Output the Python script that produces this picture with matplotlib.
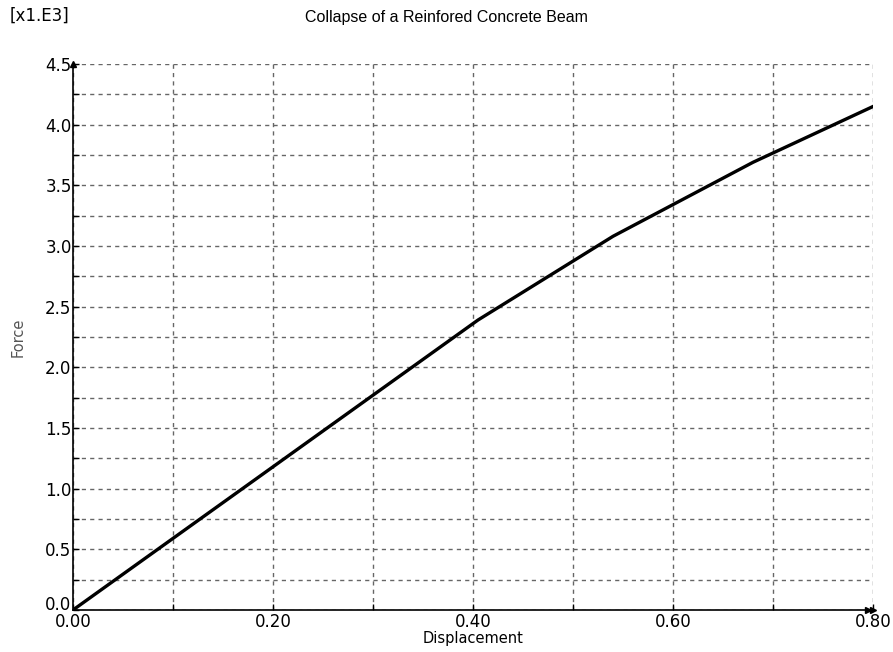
import matplotlib
matplotlib.use("Agg")
import matplotlib.pyplot as plt
import matplotlib.transforms as mtransforms
from matplotlib.ticker import MultipleLocator
import numpy as np

# data (force in N, shown scaled by 1E3)
displacement = [0.0, 0.405, 0.54, 0.68, 0.80]
force = [0.0, 2390.0, 3080.0, 3690.0, 4150.0]
x_ticks = [0.0, 0.2, 0.4, 0.6, 0.8]
x_labels = ["0.00", "0.20", "0.40", "0.60", "0.80"]
y_ticks = [0.0, 0.5, 1.0, 1.5, 2.0, 2.5, 3.0, 3.5, 4.0, 4.5]

fig = plt.figure(figsize=(8.93, 6.52), dpi=100)
ax = fig.add_axes([0.0817, 0.0644, 0.8959, 0.8374])

ax.plot(displacement, np.array(force) / 1000.0, color="black", lw=2.4, zorder=3)

ax.set_xlim(0, 0.8)
ax.set_ylim(0, 4.5)
ax.set_xticks(x_ticks)
ax.set_xticklabels(x_labels)
ax.set_yticks(y_ticks)
ax.set_yticklabels(["%.1f" % v for v in y_ticks])
ax.xaxis.set_minor_locator(MultipleLocator(0.1))
ax.yaxis.set_minor_locator(MultipleLocator(0.25))

# dashed grid
ax.grid(True, which="both", color="#666666", linestyle=(0, (3, 3)), lw=1.0)
ax.set_axisbelow(True)

for s in ["top", "right"]:
    ax.spines[s].set_visible(False)
for s in ["left", "bottom"]:
    ax.spines[s].set_linewidth(1.2)
    ax.spines[s].set_zorder(4)

ax.tick_params(which="both", direction="in", length=4, width=1, pad=2,
               labelsize=12, labelcolor="black")
ax.tick_params(axis="y", which="major", pad=1)

# lift the 0.0 label a little so it sits above the x labels
lbl0 = ax.get_yticklabels()[0]
lbl0.set_transform(lbl0.get_transform() +
                   mtransforms.ScaledTranslation(0, 5 / 72, fig.dpi_scale_trans))

ax.set_xlabel("Displacement", fontsize=10.5, labelpad=0)
ax.set_ylabel("Force", fontsize=10.5, color="#555555", labelpad=14)
fig.suptitle("Collapse of a Reinfored Concrete Beam", fontfamily="Liberation Sans",
             fontsize=11.5, y=0.984)
fig.text(0.011, 0.99, "[x1.E3]", fontsize=12, ha="left", va="top")

# small arrowheads at the axis ends
ax.plot(0, 1, marker="^", color="black", ms=4, transform=ax.transAxes, clip_on=False)
ax.plot(0.994, 0, marker=">", color="black", ms=4, transform=ax.transAxes, clip_on=False)
ax.plot(1.0, 0, marker=">", color="black", ms=4, transform=ax.transAxes, clip_on=False)

fig.savefig("out.png", dpi=100)
